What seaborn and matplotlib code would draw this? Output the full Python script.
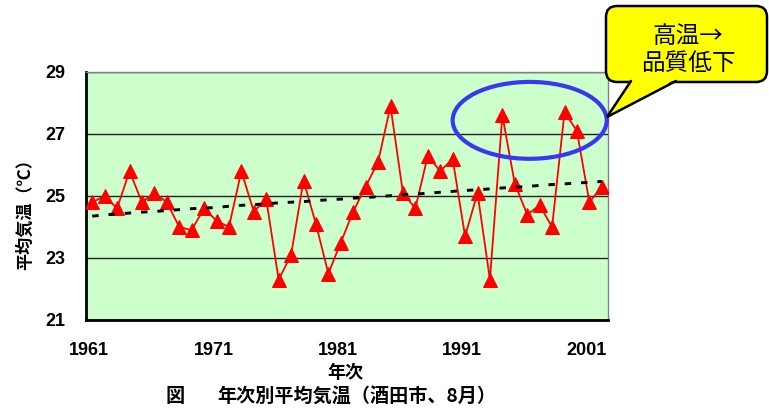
import numpy as np
import pandas as pd
import matplotlib
matplotlib.use("Agg")
import matplotlib.pyplot as plt
import seaborn as sns
from matplotlib.patches import Ellipse, FancyBboxPatch, Polygon
from matplotlib.lines import Line2D
from matplotlib.transforms import ScaledTranslation

# ---- data ----
years = list(range(1961, 2003))
temps = [24.8, 25.0, 24.6, 25.8, 24.8, 25.1, 24.8, 24.0, 23.9, 24.6,
         24.2, 24.0, 25.8, 24.5, 24.9, 22.3, 23.1, 25.5, 24.1, 22.5,
         23.5, 24.5, 25.3, 26.1, 27.9, 25.1, 24.6, 26.3, 25.8, 26.2,
         23.7, 25.1, 22.3, 27.6, 25.4, 24.4, 24.7, 24.0, 27.7, 27.1,
         24.8, 25.3]
trend = [24.35, 24.39, 24.42, 24.45, 24.48, 24.50, 24.53, 24.56, 24.59, 24.61,
         24.63, 24.67, 24.70, 24.72, 24.75, 24.78, 24.80, 24.82, 24.85, 24.88,
         24.90, 24.93, 24.95, 24.98, 25.01, 25.04, 25.06, 25.09, 25.12, 25.15,
         25.18, 25.20, 25.23, 25.26, 25.28, 25.31, 25.34, 25.37, 25.39, 25.42,
         25.44, 25.47]
xtick_labels = [1961, 1971, 1981, 1991, 2001]
yticks = [21, 23, 25, 27, 29]

ylabel = "平均気温（℃）"
xlabel = "年次"
caption_head = "図"
caption = "年次別平均気温（酒田市、8月）"
callout = "高温→\n品質低下"

df = pd.DataFrame({"year": years, "temp": temps, "trend": trend})

sns.set_style("white")
plt.rcParams["font.family"] = ["Noto Sans CJK JP", "DejaVu Sans"]
plt.rcParams["text.color"] = "black"
plt.rcParams["xtick.color"] = "black"
plt.rcParams["ytick.color"] = "black"

W, H = 769, 408
fig = plt.figure(figsize=(W / 100, H / 100), dpi=100)
ax = fig.add_axes([86 / W, 1 - 320 / H, (608 - 86) / W, (320 - 72) / H])
ax.set_facecolor("#CCFFCC")

sns.lineplot(data=df, x="year", y="temp", ax=ax, color="#FF0000", lw=1.3,
             marker="^", markersize=10, markeredgecolor="#FF0000",
             markerfacecolor="#FF0000", zorder=3)
sns.lineplot(data=df, x="year", y="trend", ax=ax, color="black", lw=2.1,
             linestyle=(0, (2.2, 3.4)), dash_capstyle="butt", zorder=4)

num_font = dict(family="Liberation Sans", fontsize=13, fontweight="bold", color="black")
ax.set_xlim(1960.5, 2002.5)
ax.set_ylim(21, 29)
ax.set_yticks(yticks)
ax.set_yticklabels([str(v) for v in yticks], **num_font)
ax.set_xticks(xtick_labels)
ax.set_xticklabels([str(v) for v in xtick_labels], **num_font)
ax.set_xticks([1970.5, 1980.5, 1990.5, 2000.5], minor=True)
ax.tick_params(axis="x", which="major", length=0, pad=16)
ax.tick_params(axis="x", which="minor", direction="in", length=5, width=2, color="black")
ax.tick_params(axis="y", which="major", direction="in", length=5, width=2, color="black", pad=15)
for lab in ax.get_xticklabels():
    lab.set_transform(lab.get_transform() + ScaledTranslation(-3 / 100, 0, fig.dpi_scale_trans))

ax.yaxis.grid(True, color="#222222", lw=1.0)
ax.set_axisbelow(True)
ax.set_xlabel("")
ax.set_ylabel("")

for s in ["left", "bottom"]:
    ax.spines[s].set_color("black")
    ax.spines[s].set_linewidth(2)
for s in ["top", "right"]:
    ax.spines[s].set_color("#808080")
    ax.spines[s].set_linewidth(1)

# axis titles and caption
fig.text(25 / W, 1 - 210 / H, ylabel, rotation=90, ha="center", va="center",
         fontsize=12.3, fontweight="bold")
fig.text(345 / W, 1 - 373 / H, xlabel, ha="center", va="center",
         fontsize=13, fontweight="bold")
fig.text(166 / W, 1 - 397 / H, caption_head, ha="left", va="center",
         fontsize=13.75, fontweight="bold")
fig.text(217 / W, 1 - 397 / H, caption, ha="left", va="center",
         fontsize=13.75, fontweight="bold")

# blue ellipse highlighting the hot years
ax.add_patch(Ellipse((1996.2, 27.44), width=12.4, height=2.48, fill=False,
                     edgecolor="#3838F0", lw=3, zorder=5, clip_on=False))

# yellow callout (pixel -> inch coordinates)
tr = fig.dpi_scale_trans
def P(x, y):
    return (x / 100, (H - y) / 100)

x0, y0 = P(606, 82)
x1, y1 = P(767, 6)
box = FancyBboxPatch((x0, y0), x1 - x0, y1 - y0,
                     boxstyle="round,pad=0,rounding_size=0.11",
                     transform=tr, facecolor="#FFFF00", edgecolor="black",
                     lw=1.8, zorder=10)
fig.patches.append(box)
tail_fill = Polygon([P(631, 79), P(607, 117), P(676, 79)], closed=True,
                    transform=tr, facecolor="#FFFF00", edgecolor="none", zorder=11)
fig.patches.append(tail_fill)
tail_line = Line2D([P(631, 81)[0], P(607, 117)[0], P(676, 81)[0]],
                   [P(631, 81)[1], P(607, 117)[1], P(676, 81)[1]],
                   transform=tr, color="black", lw=1.8, zorder=12,
                   solid_joinstyle="miter")
fig.lines.append(tail_line)
fig.text(688 / W, 1 - 50 / H, callout, ha="center", va="center",
         fontsize=17, linespacing=1.2, zorder=13)

fig.savefig("out.png", dpi=100)
